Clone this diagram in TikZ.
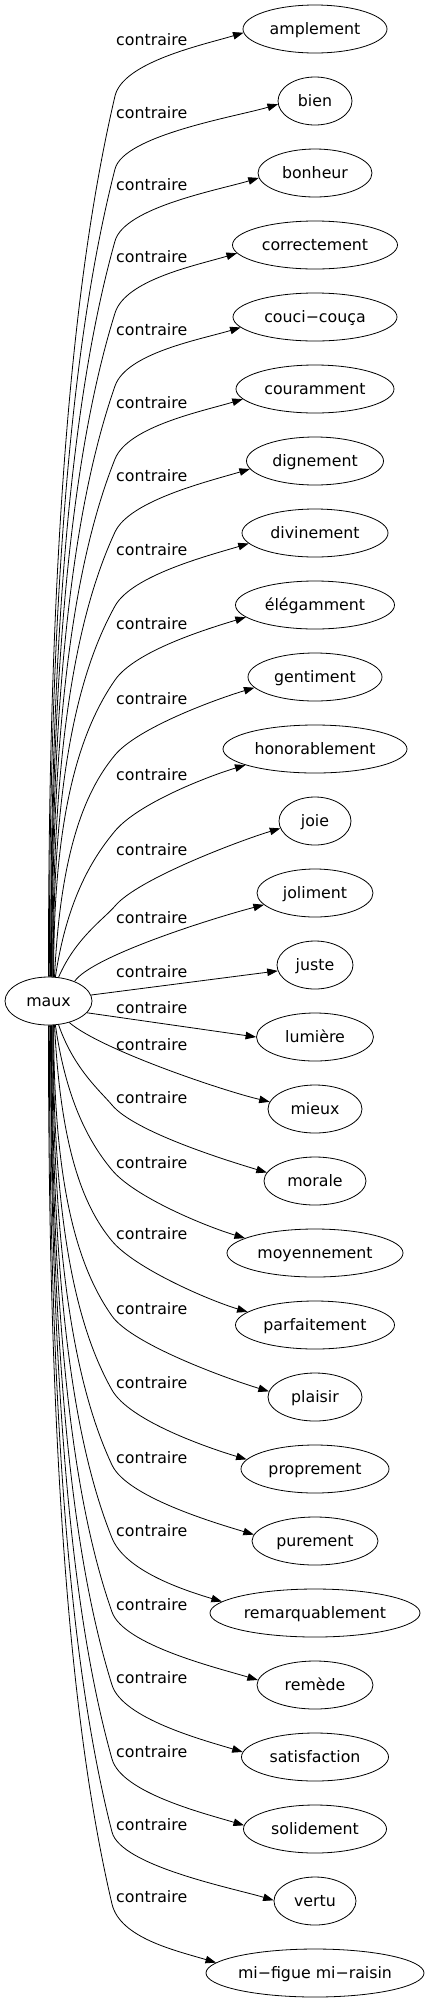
\documentclass[tikz,border=0pt]{standalone}
\usepackage{fontspec}
\setmainfont{DejaVu Sans}
\usetikzlibrary{arrows.meta,calc,shapes.geometric}
\newcommand\gvfont{\fontsize{15.8pt}{19pt}\selectfont}
% upper edge: #1 target, #2 start angle, #3 start x, #4 label y, #5 end angle
\newcommand\upedge[5]{%
 \pgfmathsetmacro\eYk{#4+55}%
 \pgfmathsetmacro\eH{977-\eYk}%
 \pgfmathsetmacro\eB{0.17*\eH}%
 \pgfmathsetmacro\eA{min(35,\eB/1.2)}%
 \pgfmathsetmacro\eC{0.4*(115-#3)*max(0,1-\eH/300)}%
 \pgfmathsetmacro\eP{#3+\eC}%
 \pgfmathsetmacro\eQ{977-0.55*\eH}%
 \pgfmathsetmacro\eR{115-\eA}%
 \pgfmathsetmacro\eS{\eYk+\eB}%
 \pgfmathsetmacro\eN{veclen(\eA,\eB)}%
 \pgfmathsetmacro\eU{115+35*\eA/\eN}%
 \pgfmathsetmacro\eV{\eYk-35*\eB/\eN}%
 \draw[edge] (maux.#2) .. controls (\eP,\eQ) and (\eR,\eS) .. (115,\eYk)
   .. controls (\eU,\eV) and ($(#1.#5)+(-40,12)$) .. (#1.#5);
}
% lower edge
\newcommand\downedge[5]{%
 \pgfmathsetmacro\eYk{#4+6}%
 \pgfmathsetmacro\eH{\eYk-1025}%
 \pgfmathsetmacro\eB{0.17*\eH}%
 \pgfmathsetmacro\eA{min(35,\eB/1.2)}%
 \pgfmathsetmacro\eC{0.4*(112-#3)*max(0,1-\eH/300)}%
 \pgfmathsetmacro\eP{#3+\eC}%
 \pgfmathsetmacro\eQ{1025+0.55*\eH}%
 \pgfmathsetmacro\eR{112-\eA}%
 \pgfmathsetmacro\eS{\eYk-\eB}%
 \pgfmathsetmacro\eN{veclen(\eA,\eB)}%
 \pgfmathsetmacro\eU{112+35*\eA/\eN}%
 \pgfmathsetmacro\eV{\eYk+35*\eB/\eN}%
 \draw[edge] (maux.#2) .. controls (\eP,\eQ) and (\eR,\eS) .. (112,\eYk)
   .. controls (\eU,\eV) and ($(#1.#5)+(-40,-12)$) .. (#1.#5);
}
\begin{document}
\begin{tikzpicture}[x=1pt,y=-1pt,
  tnode/.style={draw, ellipse, line width=0.8pt, minimum height=48pt, inner sep=0pt,
                text height=11.5pt, text depth=0pt, font=\gvfont},
  lbl/.style={font=\gvfont, inner sep=0pt, anchor=base west},
  edge/.style={line width=0.8pt, -{Triangle[length=10.5pt,width=7.5pt]}}]
\useasboundingbox (0,0) rectangle (429,2003);
\node[tnode, minimum width=87pt] (maux) at (48.5,1001) {maux};
\node[tnode, minimum width=144pt] (t0) at (315,29) {amplement};
\node[tnode, minimum width=74pt] (t1) at (315,101) {bien};
\node[tnode, minimum width=114pt] (t2) at (315,173) {bonheur};
\node[tnode, minimum width=165pt] (t3) at (315,245) {correctement};
\node[tnode, minimum width=164pt] (t4) at (315,317) {couci−couça};
\node[tnode, minimum width=158pt] (t5) at (315,389) {couramment};
\node[tnode, minimum width=137pt] (t6) at (315,461) {dignement};
\node[tnode, minimum width=146pt] (t7) at (315,533) {divinement};
\node[tnode, minimum width=159pt] (t8) at (315,605) {élégamment};
\node[tnode, minimum width=134pt] (t9) at (315,677) {gentiment};
\node[tnode, minimum width=184pt] (t10) at (315,749) {honorablement};
\node[tnode, minimum width=72pt] (t11) at (315,821) {joie};
\node[tnode, minimum width=116pt] (t12) at (315,893) {joliment};
\node[tnode, minimum width=76pt] (t13) at (315,965) {juste};
\node[tnode, minimum width=117pt] (t14) at (315,1037) {lumière};
\node[tnode, minimum width=94pt] (t15) at (315,1109) {mieux};
\node[tnode, minimum width=102pt] (t16) at (315,1181) {morale};
\node[tnode, minimum width=176pt] (t17) at (315,1253) {moyennement};
\node[tnode, minimum width=159pt] (t18) at (315,1325) {parfaitement};
\node[tnode, minimum width=94pt] (t19) at (315,1397) {plaisir};
\node[tnode, minimum width=148pt] (t20) at (315,1469) {proprement};
\node[tnode, minimum width=126pt] (t21) at (315,1541) {purement};
\node[tnode, minimum width=210pt] (t22) at (315,1613) {remarquablement};
\node[tnode, minimum width=116pt] (t23) at (315,1685) {remède};
\node[tnode, minimum width=147pt] (t24) at (315,1757) {satisfaction};
\node[tnode, minimum width=143pt] (t25) at (315,1829) {solidement};
\node[tnode, minimum width=82pt] (t26) at (315,1901) {vertu};
\node[tnode, minimum width=218pt] (t27) at (315,1973) {mi−figue mi−raisin};
% labels
\node[lbl] (l0) at (116,45.5) {contraire};
\node[lbl] (l1) at (116,118.5) {contraire};
\node[lbl] (l2) at (116,190.5) {contraire};
\node[lbl] (l3) at (116,262.5) {contraire};
\node[lbl] (l4) at (116,335.5) {contraire};
\node[lbl] (l5) at (116,408.5) {contraire};
\node[lbl] (l6) at (116,481.5) {contraire};
\node[lbl] (l7) at (116,555.5) {contraire};
\node[lbl] (l8) at (116,629.5) {contraire};
\node[lbl] (l9) at (116,704.5) {contraire};
\node[lbl] (l10) at (116,780.5) {contraire};
\node[lbl] (l11) at (116,855.5) {contraire};
\node[lbl] (l12) at (116,923.5) {contraire};
\node[lbl] (l13) at (116,977.5) {contraire};
\node[lbl] (l14) at (116,1013.5) {contraire};
\node[lbl] (l15) at (116,1050.5) {contraire};
\node[lbl] (l16) at (116,1103.5) {contraire};
\node[lbl] (l17) at (116,1168.5) {contraire};
\node[lbl] (l18) at (116,1239.5) {contraire};
\node[lbl] (l19) at (116,1314.5) {contraire};
\node[lbl] (l20) at (116,1388.5) {contraire};
\node[lbl] (l21) at (116,1463.5) {contraire};
\node[lbl] (l22) at (116,1536.5) {contraire};
\node[lbl] (l23) at (116,1610.5) {contraire};
\node[lbl] (l24) at (116,1683.5) {contraire};
\node[lbl] (l25) at (116,1757.5) {contraire};
\node[lbl] (l26) at (116,1830.5) {contraire};
\node[lbl] (l27) at (116,1902.5) {contraire};
% edges
\upedge{t0}{90}{48}{41}{183}
\upedge{t1}{88}{49}{114}{185}
\upedge{t2}{85}{50}{186}{185}
\upedge{t3}{84}{50.5}{258}{186}
\upedge{t4}{83}{51}{331}{188}
\upedge{t5}{82}{51.5}{404}{188}
\upedge{t6}{80}{52}{477}{187}
\upedge{t7}{79}{52.5}{551}{189}
\upedge{t8}{78}{53}{625}{190}
\upedge{t9}{76}{54}{700}{190}
\upedge{t10}{74}{55}{776}{193}
\upedge{t11}{67}{58}{851}{192}
\draw[edge] (maux.37) .. controls (92,956) and ($(t12.193)+(-50,13)$) .. (t12.193);
\draw[edge] (maux.8) -- (t13.189);
\draw[edge] (maux.-17) -- (t14.180);
\draw[edge] (maux.-46) .. controls (100,1049) and ($(t15.171)+(-50,-12)$) .. (t15.171);
\downedge{t16}{-67}{58}{1099}{170}
\downedge{t17}{-74}{55}{1164}{168}
\downedge{t18}{-76}{54}{1235}{169}
\downedge{t19}{-78}{53}{1310}{173}
\downedge{t20}{-79}{52.5}{1384}{172}
\downedge{t21}{-80}{52}{1459}{174}
\downedge{t22}{-82}{51.5}{1532}{173}
\downedge{t23}{-83}{51}{1606}{175}
\downedge{t24}{-84}{50.5}{1679}{176}
\downedge{t25}{-85}{50}{1753}{177}
\downedge{t26}{-88}{49}{1826}{179}
\downedge{t27}{-90}{48}{1898}{174}
\end{tikzpicture}
\end{document}
